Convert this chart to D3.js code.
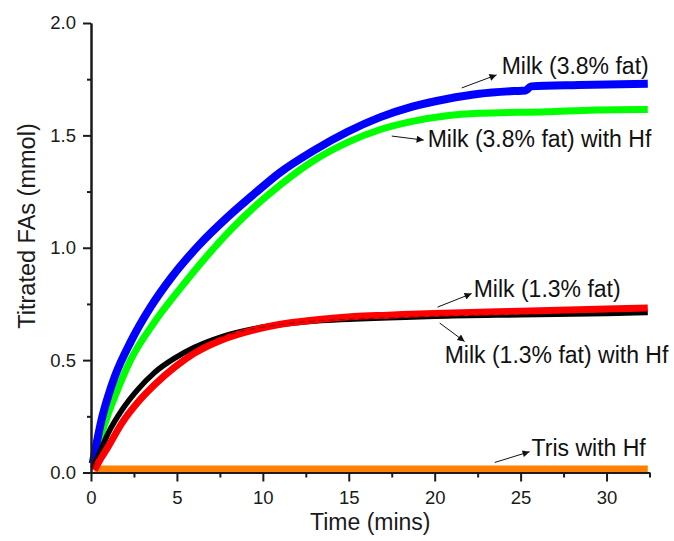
<!DOCTYPE html>
<html>
<head>
<meta charset="utf-8">
<script src="https://cdn.jsdelivr.net/npm/d3@7"></script>
<style>
  html, body { margin: 0; padding: 0; background: #fff; }
  svg { display: block; font-family: Arial, "Liberation Sans", sans-serif; }
</style>
</head>
<body>
<svg id="chart" width="674" height="541"></svg>
<script>
// ---- Data ----
const xMajorTicks = [0, 5, 10, 15, 20, 25, 30];
const yMajorTicks = [0.0, 0.5, 1.0, 1.5, 2.0];

const milk38T = [0.1, 0.3, 0.6, 1.0, 1.4, 2.3, 3.5, 4.7, 6.2, 8.0, 9.5, 11.0, 12.9, 14.9, 16.8, 18.7, 20.7, 22.6, 24.6, 25.3, 25.6, 28.4, 32.4];
const milk38V = [0.04, 0.12, 0.23, 0.34, 0.43, 0.58, 0.74, 0.87, 1.005, 1.14, 1.24, 1.335, 1.43, 1.515, 1.58, 1.628, 1.662, 1.685, 1.697, 1.70, 1.718, 1.724, 1.73];

const milk38HfT = [0.1, 0.4, 1.0, 1.4, 2.3, 3.7, 5.1, 6.6, 8.2, 9.7, 11.1, 12.9, 14.9, 16.8, 18.7, 20.7, 22.6, 26.5, 29.4, 32.4];
const milk38HfV = [0.04, 0.12, 0.26, 0.34, 0.50, 0.67, 0.81, 0.95, 1.085, 1.195, 1.285, 1.385, 1.468, 1.525, 1.562, 1.587, 1.598, 1.605, 1.613, 1.615];

const milk13HfT = [0.1, 0.4, 1.0, 1.8, 2.7, 3.7, 4.9, 6.0, 7.6, 9.5, 11.5, 13.4, 15.3, 17.3, 20, 25, 30, 32.4];
const milk13HfV = [0.02, 0.07, 0.175, 0.278, 0.367, 0.445, 0.51, 0.556, 0.604, 0.640, 0.663, 0.676, 0.683, 0.688, 0.695, 0.702, 0.708, 0.712];

const milk13T = [0.2, 0.4, 1.0, 1.8, 2.7, 3.7, 4.9, 6.0, 7.6, 9.5, 11.5, 13.4, 15.3, 17.3, 20, 25, 30, 32.4];
const milk13V = [0.01, 0.04, 0.115, 0.22, 0.31, 0.39, 0.47, 0.53, 0.59, 0.635, 0.665, 0.682, 0.694, 0.70, 0.708, 0.718, 0.727, 0.732];

const trisHfT = [0.2, 32.4];
const trisHfV = [0.016, 0.016];

const labels = ["Milk (3.8% fat)", "Milk (3.8% fat) with Hf", "Milk (1.3% fat)", "Milk (1.3% fat) with Hf", "Tris with Hf"];

// ---- Layout ----
const svg = d3.select("#chart");
const x = d3.scaleLinear().domain([0, 32.5]).range([91, 649.5]);
const y = d3.scaleLinear().domain([0, 2]).range([472.5, 23]);

const zip = (T, V) => T.map((t, i) => ({t, v: V[i]}));
const series = [
  {data: zip(trisHfT, trisHfV), color: "#ff8000", w: 7},
  {data: zip(milk38HfT, milk38HfV), color: "#00ff00", w: 7},
  {data: zip(milk38T, milk38V), color: "#0000ff", w: 8},
  {data: zip(milk13HfT, milk13HfV), color: "#000000", w: 5.5},
  {data: zip(milk13T, milk13V), color: "#ff0000", w: 7}
];

const line = d3.line().x(d => x(d.t)).y(d => y(d.v)).curve(d3.curveMonotoneX);
svg.append("g").selectAll("path").data(series).join("path")
  .attr("d", d => line(d.data))
  .attr("fill", "none")
  .attr("stroke", d => d.color)
  .attr("stroke-width", d => d.w)
  .attr("stroke-linejoin", "round");

// thin dark centre line inside the red band (black markers showing through)
svg.append("path").attr("d", line(series[3].data))
  .attr("fill", "none").attr("stroke", "#000").attr("stroke-width", 0.8)
  .attr("stroke-dasharray", "6,4").attr("opacity", 0.6);

// ---- Axes ----
const axisStyle = g => {
  g.selectAll(".domain").attr("stroke", "#1a1a1a").attr("stroke-width", 2);
  g.selectAll(".tick line").attr("stroke", "#1a1a1a").attr("stroke-width", 2);
  g.selectAll(".tick text").attr("fill", "#1a1a1a").style("font-size", "18.5px")
    .style("font-family", "Arial, 'Liberation Sans', sans-serif");
};

const yMinor = d3.range(0, 2.001, 0.25).filter(v => !yMajorTicks.some(m => Math.abs(m - v) < 1e-9));
const xMinor = d3.range(2.5, 32.6, 5);

svg.append("g").attr("transform", `translate(${x(0)},0)`)
  .call(d3.axisLeft(y).tickValues(yMinor).tickSize(4).tickFormat("").tickSizeOuter(0))
  .call(axisStyle);
svg.append("g").attr("transform", `translate(${x(0)},0)`)
  .call(d3.axisLeft(y).tickValues(yMajorTicks).tickSize(8).tickPadding(7).tickFormat(d3.format(".1f")).tickSizeOuter(0))
  .call(axisStyle);

svg.append("g").attr("transform", `translate(0,${y(0)})`)
  .call(d3.axisBottom(x).tickValues(xMinor).tickSize(5).tickFormat("").tickSizeOuter(0))
  .call(axisStyle);
svg.append("g").attr("transform", `translate(0,${y(0)})`)
  .call(d3.axisBottom(x).tickValues(xMajorTicks).tickSize(9).tickPadding(9).tickFormat(d3.format("d")).tickSizeOuter(0))
  .call(axisStyle);

// axis titles
svg.append("text").attr("x", (x(0) + x(32.5)) / 2).attr("y", 530)
  .attr("text-anchor", "middle").style("font-size", "23px").attr("fill", "#1a1a1a")
  .text("Time (mins)");
svg.append("text").attr("transform", "translate(35,226) rotate(-90)")
  .attr("text-anchor", "middle").style("font-size", "23.5px").attr("fill", "#1a1a1a")
  .text("Titrated FAs (mmol)");

// ---- Annotations (positions in data units) ----
svg.append("defs").append("marker")
  .attr("id", "arr").attr("viewBox", "0 0 10 10").attr("refX", 10).attr("refY", 5)
  .attr("markerWidth", 11).attr("markerHeight", 7).attr("markerUnits", "userSpaceOnUse")
  .attr("orient", "auto")
  .append("path").attr("d", "M0,0 L10,5 L0,10 Z").attr("fill", "#111");

const annos = [
  {label: labels[0], from: [21.57, 1.711], to: [23.60, 1.769], text: [23.90, 1.775]},
  {label: labels[1], from: [17.50, 1.497], to: [19.36, 1.479], text: [19.59, 1.448]},
  {label: labels[2], from: [20.17, 0.736], to: [22.15, 0.796], text: [22.27, 0.781]},
  {label: labels[3], from: [20.29, 0.665], to: [21.74, 0.583], text: [20.58, 0.487]},
  {label: labels[4], from: [23.49, 0.0445], to: [25.52, 0.0925], text: [25.64, 0.073]}
];
const ag = svg.append("g");
ag.selectAll("line").data(annos).join("line")
  .attr("x1", d => x(d.from[0])).attr("y1", d => y(d.from[1]))
  .attr("x2", d => x(d.to[0])).attr("y2", d => y(d.to[1]))
  .attr("stroke", "#111").attr("stroke-width", 1)
  .attr("marker-end", "url(#arr)");
ag.selectAll("text").data(annos).join("text")
  .attr("x", d => x(d.text[0])).attr("y", d => y(d.text[1]))
  .style("font-size", "23px").attr("fill", "#111")
  .text(d => d.label);
</script>
</body>
</html>
